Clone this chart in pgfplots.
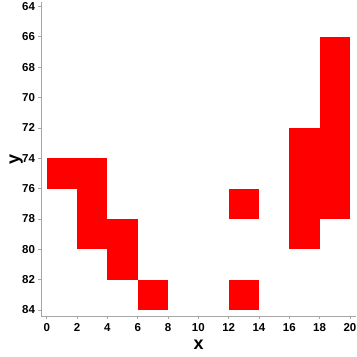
\documentclass[border=0pt]{standalone}
\usepackage{fontspec}
\setmainfont{Liberation Sans}
\usepackage{pgfplots}
\pgfplotsset{compat=1.18}
\begin{document}
\begin{tikzpicture}
\useasboundingbox (-41.5pt,-41pt) rectangle ++(357pt,357pt);
\begin{axis}[
  at={(0pt,0pt)}, anchor=south west,
  scale only axis, width=314.5pt, height=314pt,
  xmin=-0.35, xmax=20.4, ymin=63.7, ymax=84.4,
  y dir=reverse,
  axis x line=bottom, axis y line=left,
  axis line style={gray!70, -, line width=0.8pt},
  tick style={gray!70, line width=0.8pt}, tick align=outside,
  major tick length=3pt,
  xtick={0,2,...,20}, ytick={64,66,...,84},
  /pgf/number format/assume math mode=true,
  ticklabel style={font=\fontsize{11.5}{13}\selectfont\bfseries},
  xticklabel style={yshift=-1pt},
  xlabel={x}, ylabel={y},
  label style={font=\fontsize{18}{20}\selectfont\bfseries},
  xlabel style={at={(axis description cs:0.5,0)}, anchor=north, yshift=-20pt},
  ylabel style={at={(axis description cs:0,0.5)}, anchor=south, yshift=15pt},
]
\addplot[fill=red, draw=none] coordinates {(0,74) (2,74) (2,76) (0,76)} -- cycle;
\addplot[fill=red, draw=none] coordinates {(2,74) (4,74) (4,80) (2,80)} -- cycle;
\addplot[fill=red, draw=none] coordinates {(4,78) (6,78) (6,82) (4,82)} -- cycle;
\addplot[fill=red, draw=none] coordinates {(6,82) (8,82) (8,84) (6,84)} -- cycle;
\addplot[fill=red, draw=none] coordinates {(12,76) (14,76) (14,78) (12,78)} -- cycle;
\addplot[fill=red, draw=none] coordinates {(12,82) (14,82) (14,84) (12,84)} -- cycle;
\addplot[fill=red, draw=none] coordinates {(16,72) (18,72) (18,80) (16,80)} -- cycle;
\addplot[fill=red, draw=none] coordinates {(18,66) (20,66) (20,78) (18,78)} -- cycle;
\end{axis}
\end{tikzpicture}
\end{document}
